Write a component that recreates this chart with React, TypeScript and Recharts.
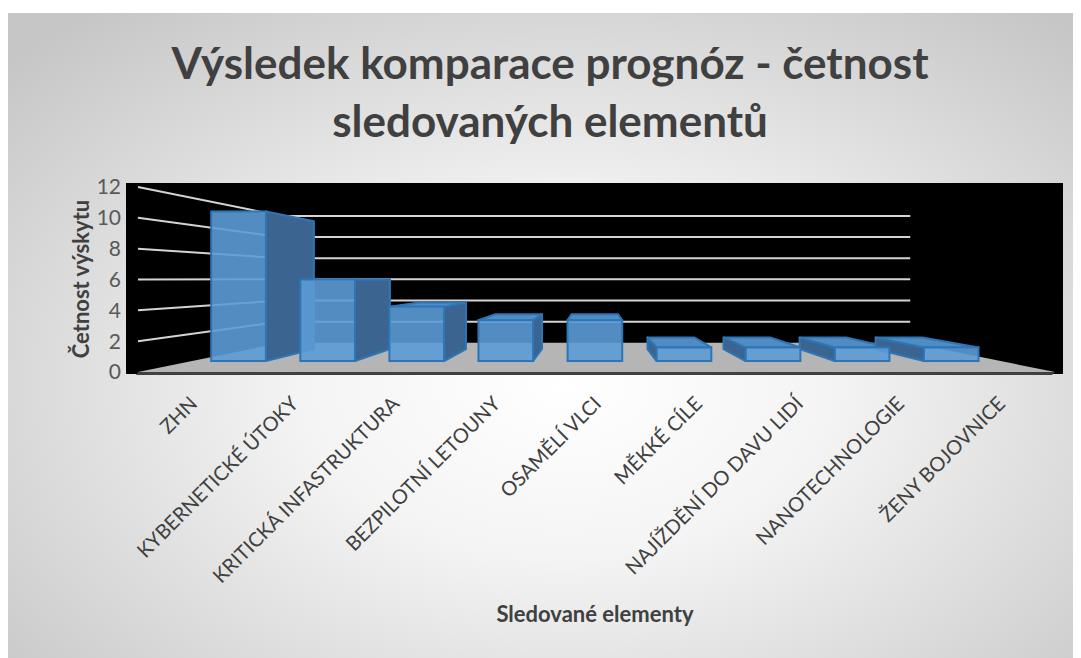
import { BarChart, Bar, XAxis, YAxis, CartesianGrid } from "recharts";

const categories = [
  "ZHN",
  "KYBERNETICKÉ ÚTOKY",
  "KRITICKÁ INFASTRUKTURA",
  "BEZPILOTNÍ LETOUNY",
  "OSAMĚLÍ VLCI",
  "MĚKKÉ CÍLE",
  "NAJÍŽDĚNÍ DO DAVU LIDÍ",
  "NANOTECHNOLOGIE",
  "ŽENY BOJOVNICE",
];
const counts = [11, 6, 4, 3, 3, 1, 1, 1, 1];
const yTicks = [0, 2, 4, 6, 8, 10, 12];

const data = categories.map((name, i) => ({ name, count: counts[i] }));

const CHART_W = 1073;
const CHART_H = 645;
const PLOT_TOP = 170;
const PLOT_BOTTOM = 361;

// fake 3D: everything is projected toward a vanishing point
const VP_X = 586;
const VP_Y = 266;
const K_FRONT = 0.882;
const K_BACK = 0.753;
const K_WALL = 0.686;
const FONT = "Lato, 'Open Sans', sans-serif";

const proj = (px: number, py: number, k: number) => [VP_X + (px - VP_X) * k, VP_Y + (py - VP_Y) * k];
const pts = (list: number[][]) => list.map((p) => p.join(",")).join(" ");

function DepthShape(props: any) {
  const { x, y, width, height } = props;
  const xl = x, xr = x + width, yt = y, yb = y + height;
  const fTL = proj(xl, yt, K_FRONT), fTR = proj(xr, yt, K_FRONT);
  const fBL = proj(xl, yb, K_FRONT), fBR = proj(xr, yb, K_FRONT);
  const bTL = proj(xl, yt, K_BACK), bTR = proj(xr, yt, K_BACK);
  const bBL = proj(xl, yb, K_BACK), bBR = proj(xr, yb, K_BACK);
  let side = null;
  if (xr < VP_X) side = [fTR, bTR, bBR, fBR];
  else if (xl > VP_X) side = [fTL, bTL, bBL, fBL];
  return (
    <g>
      {side && <polygon points={pts(side)} fill="#3b6590" stroke="#2e75b6" strokeWidth={2} strokeLinejoin="round" />}
      {yt > VP_Y && (
        <polygon points={pts([fTL, fTR, bTR, bTL])} fill="#4f8cc4" stroke="#2e75b6" strokeWidth={2} strokeLinejoin="round" />
      )}
    </g>
  );
}

function FrontShape(props: any) {
  const { x, y, width, height } = props;
  const [x1, y1] = proj(x, y, K_FRONT);
  const [x2, y2] = proj(x + width, y + height, K_FRONT);
  return (
    <rect x={x1} y={y1} width={x2 - x1} height={y2 - y1} fill="#5b9bd5" fillOpacity={0.9} stroke="#2e75b6" strokeWidth={2} />
  );
}

function WallLine(props: any) {
  const { x1, x2, y1, index } = props;
  // skip the plot's own top/bottom edges, only tick lines get a wall line
  if (y1 <= PLOT_TOP + 1 || y1 >= PLOT_BOTTOM - 1) return <g key={`wall-${index}`} />;
  const fl = x1 + 12;
  const fr = x2 - 8;
  const bl = proj(fl, y1, K_WALL);
  const br = proj(fr, y1, K_WALL);
  if (y1 > 350) {
    return (
      <g key={`wall-${index}`}>
        <polygon points={pts([[fl, y1], [fr, y1], br, bl])} fill="#b5b5b5" />
        <polygon points={pts([[fl, y1], [fr, y1], [fr - 3, y1 + 3], [fl - 2, y1 + 3]])} fill="#404040" />
      </g>
    );
  }
  return (
    <polyline key={`wall-${index}`} points={pts([[fl, y1], bl, br])} fill="none" stroke="#d4d4d4" strokeWidth={2} />
  );
}

function CategoryTick(props: any) {
  const { x, y, payload } = props;
  const ax = x + 8;
  const ay = y - 1;
  return (
    <text x={ax} y={ay} textAnchor="end" fill="#404040" fontSize={20} fontFamily={FONT} transform={`rotate(-45, ${ax}, ${ay})`}>
      {payload.value}
    </text>
  );
}

export default function App() {
  return (
    <div style={{ paddingTop: 5 }}>
      <div
        style={{
          position: "relative",
          width: CHART_W,
          height: CHART_H,
          background: "radial-gradient(ellipse 70% 75% at 52% 58%, #ffffff 0%, #f4f4f4 35%, #c6c6c6 100%)",
          fontFamily: FONT,
        }}
      >
        <div
          style={{
            position: "absolute",
            left: 0,
            width: 1084,
            top: 20,
            textAlign: "center",
            fontSize: 44,
            lineHeight: "58px",
            fontWeight: 700,
            color: "#404040",
          }}
        >
          Výsledek komparace prognóz - četnost
          <br />
          sledovaných elementů
        </div>
        <BarChart
          width={CHART_W}
          height={CHART_H}
          data={data}
          margin={{ top: PLOT_TOP, right: 18, bottom: CHART_H - PLOT_BOTTOM - 250, left: 0 }}
          style={{ position: "absolute", left: 0, top: 0 }}
        >
          <CartesianGrid vertical={false} fill="#000000" horizontal={WallLine} />
          <XAxis
            xAxisId="front"
            dataKey="name"
            padding={{ left: 14, right: 14 }}
            axisLine={false}
            tickLine={false}
            tickSize={0}
            interval={0}
            height={250}
            tick={CategoryTick}
          />
          <XAxis xAxisId="depth" dataKey="name" padding={{ left: 14, right: 14 }} hide />
          <YAxis
            domain={[-0.13, 12.26]}
            ticks={yTicks}
            allowDataOverflow
            axisLine={false}
            tickLine={false}
            tickSize={0}
            width={118}
            tickMargin={5}
            tick={{ fill: "#595959", fontSize: 21, fontFamily: FONT }}
          />
          <Bar xAxisId="depth" dataKey="count" barSize={62} shape={DepthShape} isAnimationActive={false} />
          <Bar xAxisId="front" dataKey="count" barSize={62} shape={FrontShape} isAnimationActive={false} />
        </BarChart>
        <div
          style={{
            position: "absolute",
            left: 72,
            top: 266,
            transform: "translate(-50%, -50%) rotate(-90deg)",
            whiteSpace: "nowrap",
            fontSize: 22,
            fontWeight: 700,
            color: "#404040",
          }}
        >
          Četnost výskytu
        </div>
        <div
          style={{
            position: "absolute",
            left: 587,
            top: 600,
            transform: "translate(-50%, -50%)",
            whiteSpace: "nowrap",
            fontSize: 22,
            fontWeight: 700,
            color: "#404040",
          }}
        >
          Sledované elementy
        </div>
      </div>
    </div>
  );
}
